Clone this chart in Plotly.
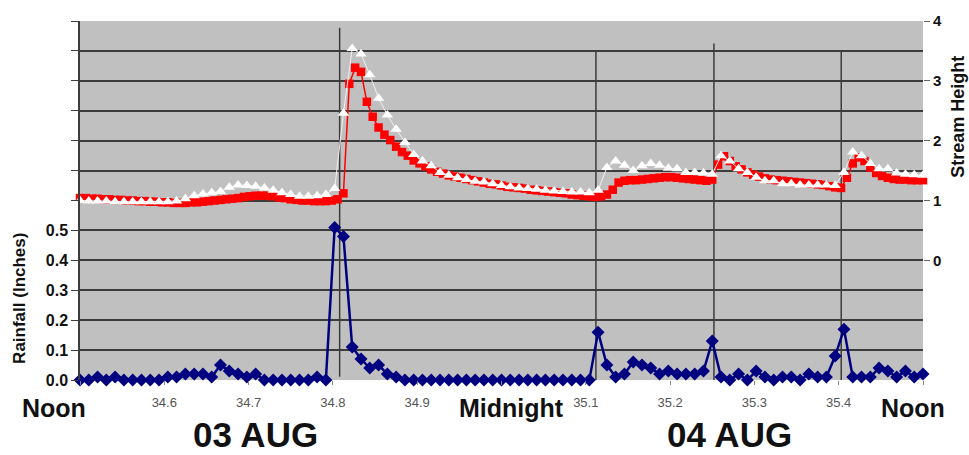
import plotly.graph_objects as go

# ---------------- data ----------------
# Rainfall, 15-minute totals (inches), Noon 03 AUG (34.5) -> Noon 04 AUG (35.5)
rain = [0, 0, 0.01, 0, 0.01, 0, 0, 0, 0, 0,
        0.01, 0.01, 0.02, 0.02, 0.02, 0.01, 0.05, 0.03, 0.02, 0.01,
        0.02, 0, 0, 0, 0, 0, 0, 0.01, 0, 0.51,
        0.48, 0.11, 0.07, 0.04, 0.05, 0.02, 0.01, 0, 0, 0,
        0, 0, 0, 0, 0, 0, 0, 0, 0, 0,
        0, 0, 0, 0, 0, 0, 0, 0, 0, 0.16,
        0.05, 0.01, 0.02, 0.06, 0.05, 0.04, 0.02, 0.03, 0.02, 0.02,
        0.02, 0.03, 0.13, 0.01, 0, 0.02, 0, 0.03, 0.01, 0,
        0.01, 0.01, 0, 0.02, 0.01, 0.01, 0.08, 0.17, 0.01, 0.01,
        0.01, 0.04, 0.03, 0.01, 0.03, 0.01, 0.02]

# Stream height, white triangle gauge, 15-minute readings
stream_white = [1.00, 0.99, 0.99, 0.99, 0.98, 0.98, 0.98, 0.98, 0.98, 0.98,
                0.98, 0.99, 1.03, 1.08, 1.11, 1.13, 1.15, 1.22, 1.26, 1.25,
                1.24, 1.21, 1.17, 1.13, 1.10, 1.07, 1.07, 1.08, 1.10, 1.20,
                2.46, 3.54, 3.45, 3.10, 2.71, 2.43, 2.19, 1.97, 1.77, 1.66,
                1.58, 1.47, 1.42, 1.38, 1.35, 1.32, 1.31, 1.28, 1.25, 1.23,
                1.21, 1.20, 1.19, 1.17, 1.16, 1.15, 1.14, 1.14, 1.13, 1.17,
                1.55, 1.66, 1.59, 1.50, 1.58, 1.62, 1.59, 1.54, 1.53, 1.47,
                1.47, 1.46, 1.44, 1.75, 1.66, 1.53, 1.47, 1.39, 1.33, 1.33,
                1.28, 1.28, 1.26, 1.26, 1.26, 1.26, 1.25, 1.47, 1.81, 1.75,
                1.62, 1.53, 1.53, 1.46, 1.44, 1.43, 1.42]

# Stream height, red square gauge, 10-minute readings
stream_red = [1.04, 1.04, 1.03, 1.03, 1.02, 1.02, 1.01, 1.01, 1.00, 1.00,
              0.99, 0.99, 0.98, 0.98, 0.97, 0.97, 0.96, 0.96, 0.96, 0.97,
              0.97, 0.98, 0.99, 1.00, 1.01, 1.02, 1.03, 1.04, 1.06, 1.07,
              1.08, 1.08, 1.08, 1.07, 1.05, 1.04, 1.02, 1.01, 1.00, 1.00,
              0.99, 0.99, 0.99, 1.00, 1.02, 1.12, 2.95, 3.22, 3.15, 2.65,
              2.40, 2.22, 2.10, 2.01, 1.90, 1.81, 1.75, 1.67, 1.62, 1.57,
              1.52, 1.48, 1.45, 1.42, 1.40, 1.38, 1.36, 1.34, 1.32, 1.30,
              1.28, 1.27, 1.25, 1.23, 1.22, 1.21, 1.20, 1.18, 1.17, 1.16,
              1.15, 1.14, 1.13, 1.12, 1.10, 1.09, 1.08, 1.07, 1.06, 1.07,
              1.10, 1.18, 1.30, 1.33, 1.34, 1.34, 1.35, 1.36, 1.37, 1.38,
              1.39, 1.39, 1.38, 1.37, 1.36, 1.35, 1.34, 1.33, 1.35, 1.60,
              1.74, 1.66, 1.57, 1.52, 1.47, 1.43, 1.40, 1.37, 1.35, 1.34,
              1.33, 1.32, 1.31, 1.30, 1.29, 1.28, 1.27, 1.26, 1.24, 1.22,
              1.21, 1.38, 1.62, 1.72, 1.66, 1.55, 1.46, 1.41, 1.38, 1.36,
              1.35, 1.35, 1.34, 1.34, 1.34]

start_day = 34.5
rain_t = [start_day + i / 96 for i in range(len(rain))]
white_t = [start_day + i / 96 for i in range(len(stream_white))]
red_t = [start_day + i / 144 for i in range(len(stream_red))]

x_tickvals = [34.5, 34.6, 34.7, 34.8, 34.9, 35.0, 35.1, 35.2, 35.3, 35.4, 35.5]
x_ticktext = ["", "34.6", "34.7", "34.8", "34.9", "", "35.1", "35.2", "35.3", "35.4", ""]
rain_tickvals = [round(0.1 * i, 1) for i in range(13)]
rain_ticktext = ["0.0", "0.1", "0.2", "0.3", "0.4", "0.5"] + [""] * 7
stream_tickvals = [0, 1, 2, 3, 4]
stream_ticktext = ["0", "1", "2", "3", "4"]

# rain-event marker lines (day fraction)
event_days = [34.808, 35.112, 35.252, 35.403]
event_tops = [0.981, 0.918, 0.937, 0.914]
event_bottoms = [0.009, 0, 0, 0]

FONT = "Arial, 'Liberation Sans', sans-serif"
GRID = "#3c3c3c"

fig = go.Figure()
fig.add_trace(go.Scatter(
    x=red_t, y=stream_red, yaxis="y2", mode="lines+markers",
    line=dict(color="#FF0000", width=1.5),
    marker=dict(symbol="square", size=8.5, color="#FF0000"),
    cliponaxis=False, showlegend=False))
fig.add_trace(go.Scatter(
    x=white_t, y=stream_white, yaxis="y2", mode="lines+markers",
    line=dict(color="#F2F2F2", width=1),
    marker=dict(symbol="triangle-up", size=10, color="#FFFFFF"),
    cliponaxis=False, showlegend=False))
fig.add_trace(go.Scatter(
    x=rain_t, y=rain, mode="lines+markers",
    line=dict(color="#000080", width=2.5),
    marker=dict(symbol="diamond", size=10, color="#000080"),
    cliponaxis=False, showlegend=False))

for d, top, bot in zip(event_days, event_tops, event_bottoms):
    fig.add_shape(type="line", xref="x", yref="paper", x0=d, x1=d, y0=bot, y1=top,
                  line=dict(color=GRID, width=1.5), layer="below")

def ann(text, x, y, size, angle=0):
    fig.add_annotation(text=text, xref="paper", yref="paper", x=x, y=y,
                       xanchor="center", yanchor="middle", showarrow=False,
                       textangle=angle,
                       font=dict(family=FONT, size=size, color="#111111", weight="bold"))

ann("Noon", -0.0308, -0.077, 25)
ann("Midnight", 0.5113, -0.077, 25)
ann("Noon", 0.988, -0.077, 25)
ann("03 AUG", 0.2076, -0.152, 35)
ann("04 AUG", 0.771, -0.152, 35)
ann("Rainfall (Inches)", -0.0712, 0.2287, 17, -90)
ann("Stream Height", 1.0415, 0.733, 18, -90)

fig.update_layout(
    width=969, height=455,
    margin=dict(l=80, r=46, t=17, b=75),
    paper_bgcolor="white", plot_bgcolor="#C0C0C0",
    font=dict(family=FONT),
    xaxis=dict(range=[34.5, 35.5], tickvals=x_tickvals, ticktext=x_ticktext,
               showgrid=False, zeroline=False, ticks="outside", ticklen=4,
               tickcolor="#888888", showline=False,
               tickfont=dict(family=FONT, size=13, color="#555555"),
               ticklabelstandoff=6),
    yaxis=dict(range=[0, 1.2], tickvals=rain_tickvals, ticktext=rain_ticktext,
               showgrid=True, gridcolor=GRID, gridwidth=1.5, zeroline=False,
               showline=True, linecolor=GRID, linewidth=1.5,
               ticks="outside", ticklen=7, tickcolor=GRID,
               tickfont=dict(family=FONT, size=16, color="#111111", weight="bold")),
    yaxis2=dict(range=[-2, 4], overlaying="y", side="right",
                tickvals=stream_tickvals, ticktext=stream_ticktext,
                showgrid=False, zeroline=False, showline=False,
                ticks="outside", ticklen=6, tickcolor="#666666",
                tickfont=dict(family=FONT, size=15, color="#111111", weight="bold")),
)

fig.write_html("out.html", config={"displayModeBar": False},
               post_script="document.body.style.margin='0';document.body.style.overflow='hidden';")
